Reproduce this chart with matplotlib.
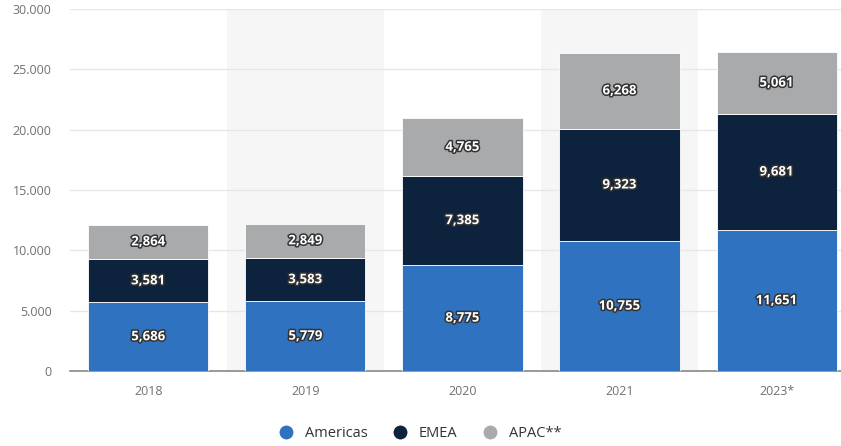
import matplotlib
matplotlib.use("Agg")
import matplotlib.pyplot as plt
import matplotlib.patheffects as pe
from matplotlib.lines import Line2D
import numpy as np

plt.rcParams['font.family'] = ['Open Sans', 'DejaVu Sans']

years = ["2018", "2019", "2020", "2021", "2023*"]
americas = [5686, 5779, 8775, 10755, 11651]
emea = [3581, 3583, 7385, 9323, 9681]
apac = [2864, 2849, 4765, 6268, 5061]
series_names = ["Americas", "EMEA", "APAC**"]
colors = ["#2f72c0", "#0c223d", "#a8aaac"]

fig = plt.figure(figsize=(8.41, 4.46), dpi=100)
ax = fig.add_axes([0.083, 0.168, 0.917, 0.812])

x = np.arange(len(years))
width = 0.765

# alternating column shading
for i in x:
    if i % 2 == 1:
        ax.axvspan(i - 0.5, i + 0.5, color="#f6f6f6", zorder=0, lw=0)

bottom = np.zeros(len(years))
outline = [pe.withStroke(linewidth=2.2, foreground="#333333")]
for vals, name, col in zip([americas, emea, apac], series_names, colors):
    bars = ax.bar(x, vals, width, bottom=bottom, color=col, label=name,
                  zorder=3, edgecolor="white", linewidth=0.6)
    for xi, b, v in zip(x, bottom, vals):
        ax.text(xi, b + v / 2, f"{v:,}", ha="center", va="center",
                color="white", fontsize=9.5, fontweight="bold",
                path_effects=outline, zorder=4)
    bottom += np.array(vals)

ax.set_ylim(0, 30000)
ax.set_xlim(-0.5, 4.41)
ax.set_yticks(range(0, 30001, 5000))
ax.set_yticklabels([f"{v:,}".replace(",", ".") for v in range(0, 30001, 5000)])
ax.set_xticks(x)
ax.set_xticklabels(years)
ax.tick_params(axis="both", length=0, colors="#707070", labelsize=9)
ax.tick_params(axis="y", pad=13)
ax.tick_params(axis="x", pad=10)
ax.grid(axis="y", color="#e6e6e6", linewidth=0.9, zorder=1)
for s in ["top", "right", "left"]:
    ax.spines[s].set_visible(False)
ax.spines["bottom"].set_color("#888888")
ax.spines["bottom"].set_linewidth(1.2)

handles = [Line2D([0], [0], marker="o", color="w", markerfacecolor=c,
                  markersize=11, linewidth=0) for c in colors]
fig.legend(handles, series_names, loc="center", bbox_to_anchor=(0.495, 0.028),
           ncol=3, frameon=False, fontsize=10.5, handletextpad=0.3,
           columnspacing=1.2, labelcolor="#333333")

fig.savefig("out.png", dpi=100)
